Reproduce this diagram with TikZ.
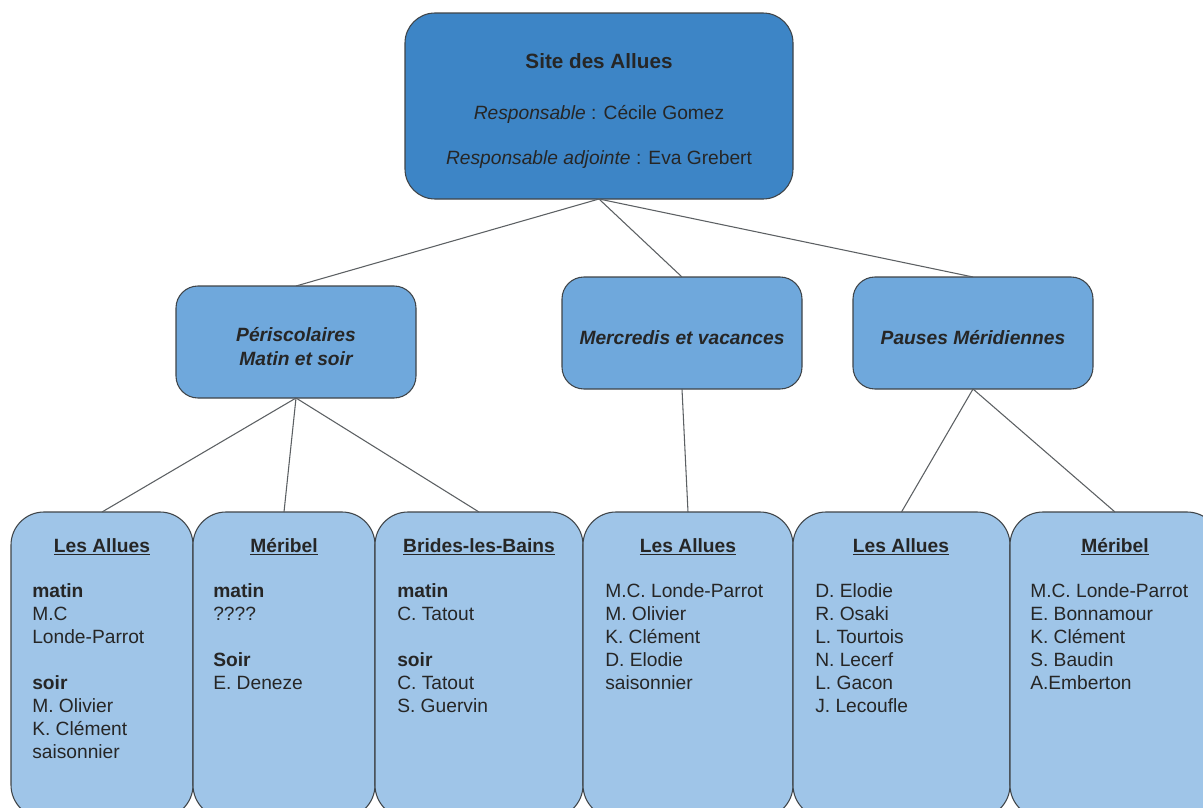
\documentclass[tikz,border=0pt]{standalone}
\usepackage{fontspec}
\setmainfont{Liberation Sans}
\definecolor{siteblue}{HTML}{3D85C6}
\definecolor{poleblue}{HTML}{6FA8DC}
\definecolor{teamblue}{HTML}{9FC5E8}
\definecolor{edgegray}{HTML}{3F4448}
\def\px{0.75pt}
\newcommand\liftline{\rule{0pt}{18pt}}
\tikzset{link/.style={draw=edgegray!85, line width=0.8pt}}
\tikzset{card/.style={draw=edgegray, line width=0.8pt, inner sep=0pt, outer sep=0pt, anchor=north west, align=center, text=black!85}}
\tikzset{site/.style={card, fill=siteblue, rounded corners=22.5pt, minimum width=388*\px, minimum height=186*\px, font=\fontsize{14.4}{17.25}\selectfont}}
\tikzset{pole/.style={card, fill=poleblue, rounded corners=16.5pt, minimum width=240*\px, minimum height=112*\px, font=\fontsize{14.4}{18}\selectfont\bfseries\itshape}}
\tikzset{team/.style args={#1}{card, fill=teamblue, rounded corners=24.75pt, minimum width=#1*\px, minimum height=306*\px}}
\tikzset{head/.style={inner sep=0pt, text=black!85, font=\fontsize{14.4}{17.25}\selectfont\bfseries}}
\tikzset{names/.style={inner sep=0pt, text=black!85, align=left, anchor=north west, font=\fontsize{14.4}{17.25}\selectfont}}

\begin{document}
\begin{tikzpicture}[x=\px, y=-\px]
\clip (0,0) rectangle (1203,807);
\fill[white] (0,0) rectangle (1203,807);
% top of the chart
\node[site] (site) at (405,13) {{\liftline\fontsize{15.5}{17.25}\selectfont\bfseries Site des Allues}\\[21pt]
  \textit{Responsable} : Cécile Gomez\\[16.5pt]
  \textit{Responsable adjointe} : Eva Grebert};
% the three services
\node[pole] (peri) at (176,286) {\liftline Périscolaires\\Matin et soir};
\node[pole] (mercredi) at (562,277) {\liftline Mercredis et vacances};
\node[pole] (pause) at (853,277) {\liftline Pauses Méridiennes};
% the teams
\node[team=182] (periallues) at (11,512) {};
\node[team=182] (perimeribel) at (193,512) {};
\node[team=208] (peribrides) at (375,512) {};
\node[team=210] (merallues) at (583,512) {};
\node[team=217] (pauseallues) at (793,512) {};
\node[team=210] (pausemeribel) at (1010,512) {};
\node[head] at (102,547) {\underline{Les Allues}};
\node[head] at (284,547) {\underline{Méribel}};
\node[head] at (479,547) {\underline{Brides-les-Bains}};
\node[head] at (688,547) {\underline{Les Allues}};
\node[head] at (901,547) {\underline{Les Allues}};
\node[head] at (1115,547) {\underline{Méribel}};
\node[names] (n1) at (32,581.4) {\strut\textbf{matin}\\M.C\\Londe-Parrot\\[17.25pt]\textbf{soir}\\M. Olivier\\K. Clément\\saisonnier};
\node[names] (n2) at (213,581.4) {\strut\textbf{matin}\\????\\[17.25pt]\textbf{Soir}\\E. Deneze};
\node[names] (n3) at (397,581.4) {\strut\textbf{matin}\\C. Tatout\\[17.25pt]\textbf{soir}\\C. Tatout\\S. Guervin};
\node[names] (n4) at (605,581.4) {\strut M.C. Londe-Parrot\\M. Olivier\\K. Clément\\D. Elodie\\saisonnier};
\node[names] (n5) at (815,581.4) {\strut D. Elodie\\R. Osaki\\L. Tourtois\\N. Lecerf\\L. Gacon\\J. Lecoufle};
\node[names] (n6) at (1030,581.4) {\strut M.C. Londe-Parrot\\E. Bonnamour\\K. Clément\\S. Baudin\\A.Emberton};
% links
\draw[link] (site.south) -- (peri.north);
\draw[link] (site.south) -- (mercredi.north);
\draw[link] (site.south) -- (pause.north);
\draw[link] (peri.south) -- (periallues.north);
\draw[link] (peri.south) -- (perimeribel.north);
\draw[link] (peri.south) -- (peribrides.north);
\draw[link] (mercredi.south) -- (merallues.north);
\draw[link] (pause.south) -- (pauseallues.north);
\draw[link] (pause.south) -- (pausemeribel.north);
\end{tikzpicture}
\end{document}
